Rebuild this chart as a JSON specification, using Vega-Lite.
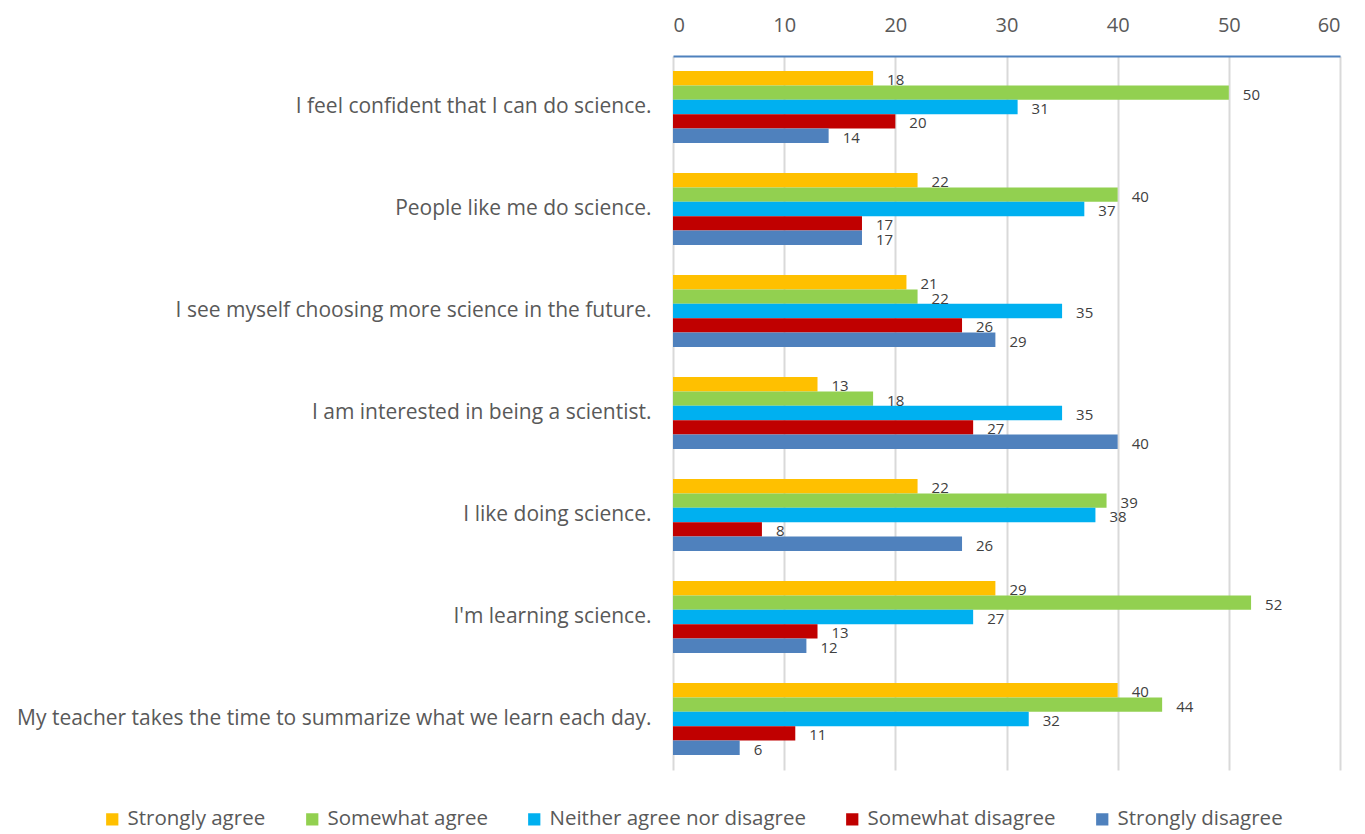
{
  "$schema": "https://vega.github.io/schema/vega-lite/v6.json",
  "autosize": "none",
  "width": 667,
  "height": 714,
  "padding": {"left": 673, "top": 56, "right": 25, "bottom": 64},
  "background": "white",
  "config": {
    "view": {"stroke": null},
    "font": "Open Sans"
  },
  "data": {
    "values": [
      {"q": "I feel confident that I can do science.", "s": "Strongly agree", "v": 18},
      {"q": "I feel confident that I can do science.", "s": "Somewhat agree", "v": 50},
      {"q": "I feel confident that I can do science.", "s": "Neither agree nor disagree", "v": 31},
      {"q": "I feel confident that I can do science.", "s": "Somewhat disagree", "v": 20},
      {"q": "I feel confident that I can do science.", "s": "Strongly disagree", "v": 14},
      {"q": "People like me do science.", "s": "Strongly agree", "v": 22},
      {"q": "People like me do science.", "s": "Somewhat agree", "v": 40},
      {"q": "People like me do science.", "s": "Neither agree nor disagree", "v": 37},
      {"q": "People like me do science.", "s": "Somewhat disagree", "v": 17},
      {"q": "People like me do science.", "s": "Strongly disagree", "v": 17},
      {"q": "I see myself choosing more science in the future.", "s": "Strongly agree", "v": 21},
      {"q": "I see myself choosing more science in the future.", "s": "Somewhat agree", "v": 22},
      {"q": "I see myself choosing more science in the future.", "s": "Neither agree nor disagree", "v": 35},
      {"q": "I see myself choosing more science in the future.", "s": "Somewhat disagree", "v": 26},
      {"q": "I see myself choosing more science in the future.", "s": "Strongly disagree", "v": 29},
      {"q": "I am interested in being a scientist.", "s": "Strongly agree", "v": 13},
      {"q": "I am interested in being a scientist.", "s": "Somewhat agree", "v": 18},
      {"q": "I am interested in being a scientist.", "s": "Neither agree nor disagree", "v": 35},
      {"q": "I am interested in being a scientist.", "s": "Somewhat disagree", "v": 27},
      {"q": "I am interested in being a scientist.", "s": "Strongly disagree", "v": 40},
      {"q": "I like doing science.", "s": "Strongly agree", "v": 22},
      {"q": "I like doing science.", "s": "Somewhat agree", "v": 39},
      {"q": "I like doing science.", "s": "Neither agree nor disagree", "v": 38},
      {"q": "I like doing science.", "s": "Somewhat disagree", "v": 8},
      {"q": "I like doing science.", "s": "Strongly disagree", "v": 26},
      {"q": "I'm learning science.", "s": "Strongly agree", "v": 29},
      {"q": "I'm learning science.", "s": "Somewhat agree", "v": 52},
      {"q": "I'm learning science.", "s": "Neither agree nor disagree", "v": 27},
      {"q": "I'm learning science.", "s": "Somewhat disagree", "v": 13},
      {"q": "I'm learning science.", "s": "Strongly disagree", "v": 12},
      {"q": "My teacher takes the time to summarize what we learn each day.", "s": "Strongly agree", "v": 40},
      {"q": "My teacher takes the time to summarize what we learn each day.", "s": "Somewhat agree", "v": 44},
      {"q": "My teacher takes the time to summarize what we learn each day.", "s": "Neither agree nor disagree", "v": 32},
      {"q": "My teacher takes the time to summarize what we learn each day.", "s": "Somewhat disagree", "v": 11},
      {"q": "My teacher takes the time to summarize what we learn each day.", "s": "Strongly disagree", "v": 6}
    ]
  },
  "encoding": {
    "y": {
      "field": "q",
      "type": "nominal",
      "sort": null,
      "scale": {"paddingInner": 0.294, "paddingOuter": 0.147},
      "axis": {
        "title": null,
        "ticks": false,
        "domain": false,
        "labelFontSize": 21,
        "labelColor": "#595959",
        "labelPadding": 22,
        "labelLimit": 700
      }
    },
    "yOffset": {
      "field": "s",
      "type": "nominal",
      "sort": ["Strongly agree", "Somewhat agree", "Neither agree nor disagree", "Somewhat disagree", "Strongly disagree"],
      "scale": {"paddingInner": 0, "paddingOuter": 0}
    },
    "x": {
      "field": "v",
      "type": "quantitative",
      "scale": {"domain": [0, 60], "nice": false},
      "axis": {
        "orient": "top",
        "title": null,
        "values": [0, 10, 20, 30, 40, 50, 60],
        "ticks": false,
        "labelFontSize": 20,
        "labelColor": "#595959",
        "labelPadding": 21,
        "domainColor": "#4F81BD",
        "domainWidth": 2,
        "gridColor": "#D9D9D9",
        "gridWidth": 2
      }
    }
  },
  "layer": [
    {
      "mark": {"type": "bar"},
      "encoding": {
        "color": {
          "field": "s",
          "type": "nominal",
          "sort": ["Strongly agree", "Somewhat agree", "Neither agree nor disagree", "Somewhat disagree", "Strongly disagree"],
          "scale": {
            "domain": ["Strongly agree", "Somewhat agree", "Neither agree nor disagree", "Somewhat disagree", "Strongly disagree"],
            "range": ["#FFC000", "#92D050", "#00B0F0", "#C00000", "#4F81BD"]
          },
          "legend": {
            "title": null,
            "orient": "none",
            "direction": "horizontal",
            "legendX": -571,
            "legendY": 753,
            "symbolType": "square",
            "symbolSize": 150,
            "symbolStrokeWidth": 0,
            "labelFontSize": 20.5,
            "labelColor": "#595959",
            "columnPadding": 36,
            "symbolOffset": 0,
            "labelOffset": 5,
            "labelLimit": 400
          }
        }
      }
    },
    {
      "mark": {"type": "text", "align": "left", "dx": 14, "dy": 2, "fontSize": 15, "color": "#404040"},
      "encoding": {"text": {"field": "v", "type": "quantitative"}}
    }
  ]
}
